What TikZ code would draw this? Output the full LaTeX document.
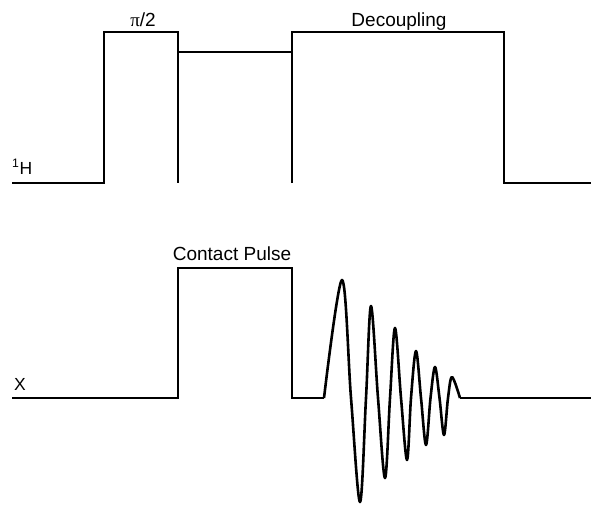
\documentclass[tikz,border=0pt]{standalone}
\usepackage{fontspec}
\setmainfont{Liberation Sans}
\newfontfamily\pifont{Liberation Serif}
\begin{document}
\begin{tikzpicture}[x=1pt,y=-1pt,
  pulse/.style={line width=2pt, line join=miter, line cap=butt},
  fid/.style={line width=2.6pt, line join=round},
  biglbl/.style={font=\fontsize{19}{21}\selectfont, anchor=base, inner sep=0pt},
  chlbl/.style={font=\fontsize{17.5}{20}\selectfont, anchor=base west, inner sep=0pt}]
\useasboundingbox (0,0) rectangle (591,504);
% 1H channel
\draw[pulse] (12,183) -- (104,183) -- (104,32) -- (178,32) -- (178,183);
\draw[pulse] (178,52) -- (292,52);
\draw[pulse] (292,183) -- (292,32) -- (504,32) -- (504,183) -- (591,183);
% X channel
\draw[pulse] (12,398) -- (178,398) -- (178,268) -- (292,268) -- (292,398) -- (324,398);
\draw[pulse] (460,398) -- (591,398);
% FID
\draw[fid] plot[smooth, tension=0.55] coordinates {
  (324,398) (342,280) (351,398) (360,502) (366,398) (371,306) (378,398)
  (385,478) (390,398) (395,328) (401,398) (407,460) (411,398) (416,351)
  (421,398) (426,445) (430.5,398) (435,367) (439.5,398) (444,435)
  (448,398) (452,377) (460,398)};
% labels
\node[biglbl] (pilbl) at (143,26.5) {{\pifont π}/2};
\node[biglbl] (declbl) at (399,26.5) {Decoupling};
\node[biglbl] (cplbl) at (232,260.5) {Contact Pulse};
\node[chlbl] (hlbl) at (12,174) {\textsuperscript{1}H};
\node[chlbl] (xlbl) at (14,390.5) {X};
\end{tikzpicture}
\end{document}
